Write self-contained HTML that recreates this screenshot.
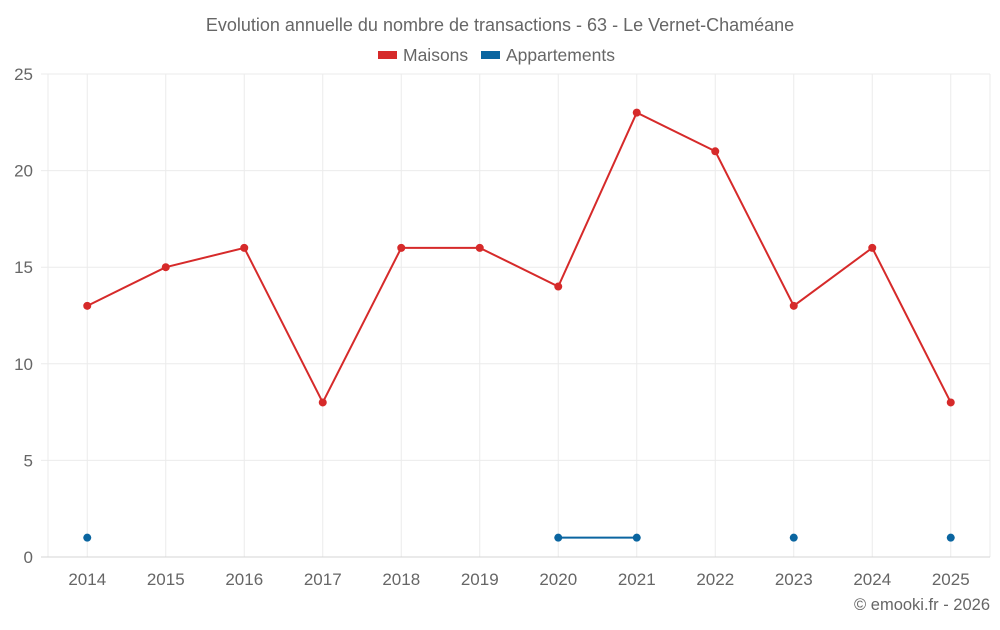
<!DOCTYPE html>
<html><head><meta charset="utf-8"><style>
body{margin:0;background:#fff;font-family:"Liberation Sans",sans-serif;}
svg text{font-family:"Liberation Sans",sans-serif;fill:#666;}
</style></head><body>
<svg id="c" width="1000" height="625">
<text x="500" y="31" text-anchor="middle" font-size="18">Evolution annuelle du nombre de transactions - 63 - Le Vernet-Chaméane</text>
<g><rect x="378" y="51" width="19" height="8" fill="#d62a2a"/><text x="403" y="61" font-size="17.5">Maisons</text></g>
<g><rect x="481" y="51" width="19" height="8" fill="#0a65a0"/><text x="506" y="61" font-size="17.5">Appartements</text></g>
<g id="grid"></g><g id="marks"></g>
<text x="990" y="610" text-anchor="end" font-size="16.5">© emooki.fr - 2026</text>
</svg>
<script>
const years=[2014,2015,2016,2017,2018,2019,2020,2021,2022,2023,2024,2025];
const maisons=[13,15,16,8,16,16,14,23,21,13,16,8];
const appartements=[1,null,null,null,null,null,1,1,null,1,null,1];
const yTicks=[0,5,10,15,20,25];
const L=48,R=990,T=74,B=557,ymax=25;
const bw=(R-L)/years.length;
const x=i=>L+bw*(i+0.5);
const y=v=>B-(v/ymax)*(B-T);
const NS="http://www.w3.org/2000/svg";
const g=document.getElementById('grid'),m=document.getElementById('marks');
function el(t,a,p){const e=document.createElementNS(NS,t);for(const k in a)e.setAttribute(k,a[k]);p.appendChild(e);return e;}
[L,R].forEach(xx=>{
 const l=el('line',{x1:xx,x2:xx,y1:T,y2:B,stroke:'#ebebeb'},g);
 
 
});
years.forEach((yr,i)=>{
 const l=el('line',{x1:x(i),x2:x(i),y1:T,y2:B,stroke:'#ebebeb'},g);
 
 
 const t=el('text',{x:x(i),y:585,'text-anchor':'middle','font-size':17},g);t.textContent=yr;
 
 
});
yTicks.forEach(v=>{
 const l=el('line',{x1:L-7,x2:R,y1:y(v),y2:y(v),stroke:v===0?'#d5d5d5':'#ebebeb'},g);
 
 
 const t=el('text',{x:33,y:y(v)+6,'text-anchor':'end','font-size':17},g);t.textContent=v;
 
 
});
function series(data,color,name){
 let d='';let pen=false;
 data.forEach((v,i)=>{if(v==null){pen=false;return;}d+=(pen?'L':'M')+x(i)+' '+y(v)+' ';pen=true;});
 const p=el('path',{d:d,fill:'none',stroke:color,'stroke-width':2},m);
 
 
 data.forEach((v,i)=>{if(v==null)return;
  const c=el('circle',{cx:x(i),cy:y(v),r:4,fill:color},m);
  
  
 });
}
series(maisons,'#d62a2a','maisons');
series(appartements,'#0a65a0','appartements');
</script>
</body></html>
